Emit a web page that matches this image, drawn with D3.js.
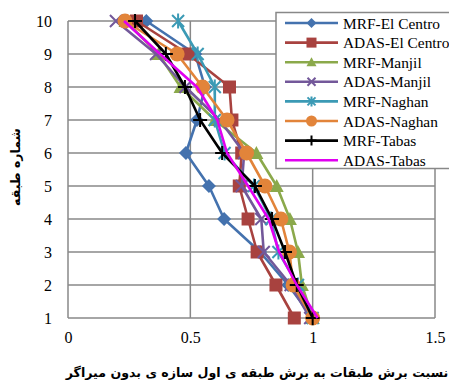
<!DOCTYPE html>
<html>
<head>
<meta charset="utf-8">
<script src="https://cdn.jsdelivr.net/npm/d3@7"></script>
<style>
  html, body { margin: 0; padding: 0; background: #fff; overflow: hidden; }
  svg { display: block; }
</style>
</head>
<body>
<svg id="chart" width="449" height="383"></svg>
<script>
// Story numbers (y axis) and shear ratio per story for each analysis
const stories = [1, 2, 3, 4, 5, 6, 7, 8, 9, 10];
const xTicks = [0, 0.5, 1, 1.5];

const mrfElCentro  = [1.00, 0.90, 0.785, 0.638, 0.576, 0.482, 0.527, 0.56, 0.52, 0.32];
const adasElCentro = [0.925, 0.85, 0.773, 0.736, 0.70, 0.71, 0.67, 0.66, 0.49, 0.28];
const mrfManjil    = [1.00, 0.956, 0.94, 0.907, 0.853, 0.77, 0.60, 0.46, 0.37, 0.235];
const adasManjil   = [0.99, 0.91, 0.80, 0.79, 0.71, 0.72, 0.62, 0.48, 0.36, 0.196];
const mrfNaghan    = [1.00, 0.94, 0.86, 0.83, 0.76, 0.64, 0.60, 0.60, 0.53, 0.45];
const adasNaghan   = [1.00, 0.92, 0.905, 0.87, 0.805, 0.73, 0.65, 0.55, 0.446, 0.233];
const mrfTabas     = [1.00, 0.935, 0.887, 0.834, 0.764, 0.63, 0.54, 0.478, 0.40, 0.274];
const adasTabas    = [1.02, 0.935, 0.863, 0.82, 0.736, 0.65, 0.61, 0.527, 0.376, 0.229];

const seriesNames = ["MRF-El Centro", "ADAS-El Centro", "MRF-Manjil", "ADAS-Manjil",
                     "MRF-Naghan", "ADAS-Naghan", "MRF-Tabas", "ADAS-Tabas"];
const seriesValues = [mrfElCentro, adasElCentro, mrfManjil, adasManjil,
                      mrfNaghan, adasNaghan, mrfTabas, adasTabas];
const seriesColors = ["#4472AE", "#A8423F", "#8BA94B", "#73589A",
                      "#3B9AB5", "#E2843A", "#000000", "#E000F0"];
const seriesMarkers = ["diamond", "square", "triangle", "x", "star", "circle", "plus", "none"];

const svg = d3.select("#chart");
const plot = { left: 68, right: 435, top: 21, bottom: 318 };

const x = d3.scaleLinear().domain([0, 1.5]).range([plot.left, plot.right]);
const y = d3.scaleLinear().domain([1, 10]).range([plot.bottom, plot.top]);

const gridColor = "#888888";

// Horizontal gridlines at each story
svg.append("g").selectAll("line").data(stories).join("line")
  .attr("x1", plot.left).attr("x2", plot.right)
  .attr("y1", d => y(d)).attr("y2", d => y(d))
  .attr("stroke", gridColor).attr("stroke-width", 1.5);

// Vertical gridlines
svg.append("g").selectAll("line").data(xTicks).join("line")
  .attr("x1", d => x(d)).attr("x2", d => x(d))
  .attr("y1", plot.top).attr("y2", plot.bottom)
  .attr("stroke", gridColor).attr("stroke-width", 1.5);

// Axes (tick labels only; lines come from the grid)
const xAxis = svg.append("g").attr("transform", `translate(0,${plot.bottom})`)
  .call(d3.axisBottom(x).tickValues(xTicks).tickSize(0).tickPadding(14).tickFormat(d3.format("")));
xAxis.select(".domain").remove();
xAxis.selectAll("text").attr("font-family", "Liberation Serif, Times New Roman, serif")
  .attr("font-size", 16).attr("fill", "#000");

const yAxis = svg.append("g").attr("transform", `translate(${plot.left},0)`)
  .call(d3.axisLeft(y).tickValues(stories).tickSize(0).tickPadding(16));
yAxis.select(".domain").remove();
yAxis.selectAll("text").attr("font-family", "Liberation Serif, Times New Roman, serif")
  .attr("font-size", 16).attr("fill", "#000");

// Axis titles
svg.append("text")
  .attr("x", 257).attr("y", 377)
  .attr("text-anchor", "middle")
  .attr("font-family", "DejaVu Sans, Noto Sans, sans-serif")
  .attr("font-weight", "bold").attr("font-size", 12.6)
  .attr("direction", "rtl")
  .text("نسبت برش طبقات به  برش طبقه ی اول سازه ی بدون میراگر");

svg.append("text")
  .attr("transform", "translate(20,167) rotate(-90)")
  .attr("text-anchor", "middle")
  .attr("font-family", "DejaVu Sans, Noto Sans, sans-serif")
  .attr("font-weight", "bold").attr("font-size", 12.5)
  .attr("direction", "rtl")
  .text("شماره طبقه");

// Marker drawing
function drawMarker(g, type, color, size) {
  const s = size;
  switch (type) {
    case "diamond":
      g.append("path").attr("d", `M0,${-s/2}L${s/2},0L0,${s/2}L${-s/2},0Z`)
        .attr("fill", color); break;
    case "square":
      g.append("rect").attr("x", -s / 2).attr("y", -s / 2).attr("width", s).attr("height", s)
        .attr("fill", color); break;
    case "triangle":
      g.append("path").attr("d", `M0,${-s/2}L${s/2},${s/2 - 1}L${-s/2},${s/2 - 1}Z`)
        .attr("fill", color); break;
    case "x":
      g.append("path").attr("d", `M${-s/2},${-s/2}L${s/2},${s/2}M${-s/2},${s/2}L${s/2},${-s/2}`)
        .attr("stroke", color).attr("stroke-width", 2); break;
    case "star":
      g.append("path").attr("d", `M${-s/2},${-s/2}L${s/2},${s/2}M${-s/2},${s/2}L${s/2},${-s/2}M0,${-s/1.6}L0,${s/1.6}`)
        .attr("stroke", color).attr("stroke-width", 2); break;
    case "circle":
      g.append("circle").attr("r", s / 2).attr("fill", color); break;
    case "plus":
      g.append("path").attr("d", `M${-s/2},0L${s/2},0M0,${-s/2}L0,${s/2}`)
        .attr("stroke", color).attr("stroke-width", 2); break;
  }
}

const markerSizes = { diamond: 14, square: 13, triangle: 14, x: 12, star: 12, circle: 15, plus: 14, none: 0 };
const legendMarkerSizes = { diamond: 10, square: 10, triangle: 10, x: 8, star: 8, circle: 11, plus: 10, none: 0 };

const line = d3.line().x(d => x(d.v)).y(d => y(d.s));

seriesNames.forEach((name, i) => {
  const pts = stories.map((s, k) => ({ s, v: seriesValues[i][k] }));
  const g = svg.append("g");
  g.append("path").datum(pts).attr("d", line)
    .attr("fill", "none").attr("stroke", seriesColors[i])
    .attr("stroke-width", 2.6).attr("stroke-linejoin", "round");
  if (seriesMarkers[i] !== "none") {
    pts.forEach(p => {
      const m = g.append("g").attr("transform", `translate(${x(p.v)},${y(p.s)})`);
      drawMarker(m, seriesMarkers[i], seriesColors[i], markerSizes[seriesMarkers[i]]);
    });
  }
});

// Legend
const legend = svg.append("g");
legend.append("rect").attr("x", 276).attr("y", 12.5).attr("width", 190).attr("height", 156)
  .attr("fill", "#fff").attr("stroke", "#888888").attr("stroke-width", 1.5);
seriesNames.forEach((name, i) => {
  const ly = 23 + i * 19.6;
  const g = legend.append("g");
  g.append("line").attr("x1", 285).attr("x2", 338).attr("y1", ly).attr("y2", ly)
    .attr("stroke", seriesColors[i]).attr("stroke-width", 2.6);
  if (seriesMarkers[i] !== "none") {
    const m = g.append("g").attr("transform", `translate(311.5,${ly})`);
    drawMarker(m, seriesMarkers[i], seriesColors[i], legendMarkerSizes[seriesMarkers[i]]);
  }
  g.append("text").attr("x", 343).attr("y", ly + 5.5)
    .attr("font-family", "Liberation Serif, Times New Roman, serif")
    .attr("font-size", 15.4).attr("fill", "#000")
    .text(name);
});
</script>
</body>
</html>
